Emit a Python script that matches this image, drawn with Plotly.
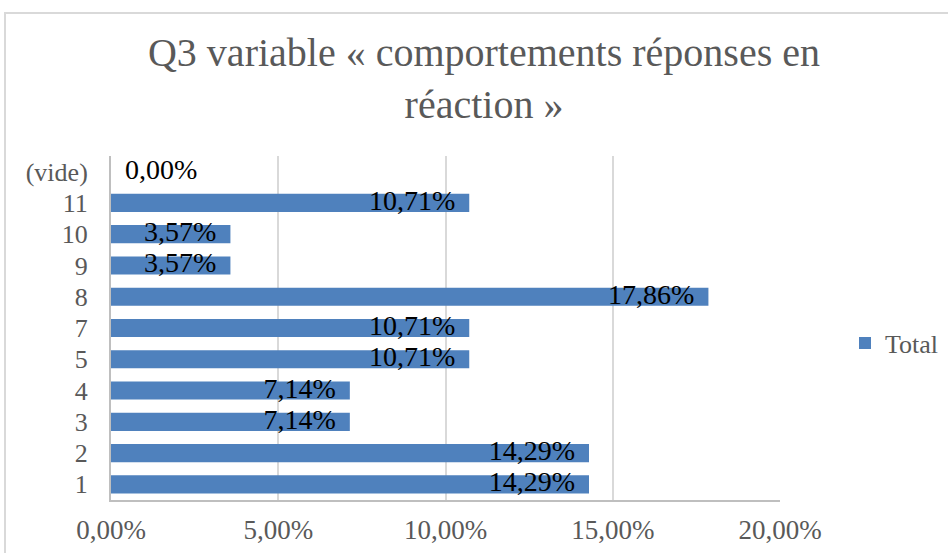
import plotly.graph_objects as go

categories = ["1", "2", "3", "4", "5", "7", "8", "9", "10", "11", "(vide)"]
values = [14.29, 14.29, 7.14, 7.14, 10.71, 10.71, 17.86, 3.57, 3.57, 10.71, 0.0]
labels = ["14,29%", "14,29%", "7,14%", "7,14%", "10,71%", "10,71%", "17,86%", "3,57%", "3,57%", "10,71%", "0,00%"]
x_ticks = [0, 5, 10, 15, 20]
x_ticklabels = ["0,00%", "5,00%", "10,00%", "15,00%", "20,00%"]
title_text = "Q3 variable « comportements réponses en<br>réaction »"

W, H = 948, 553
L, R, T, B = 111, 168, 156, 53
pw, ph = W - L - R, H - T - B

FONT = "Liberation Serif"
BAR = "#4F81BD"
GREY = "#595959"
NB = "\u00a0"

fig = go.Figure()
fig.add_trace(go.Bar(
    y=categories, x=values, orientation="h",
    marker=dict(color=BAR, line=dict(width=0)),
    name="Total", width=0.58,
))
shown = [(t + NB * 2) if v > 0 else (NB * 2 + t) for t, v in zip(labels, values)]
fig.add_trace(go.Scatter(
    y=categories, x=values, mode="text", text=shown,
    textposition=["middle left" if v > 0 else "middle right" for v in values],
    textfont=dict(family=FONT, size=28, color="#000000"),
    showlegend=False, cliponaxis=False, hoverinfo="skip",
))

def px_x(p):
    return (p - L) / pw

def px_y(p):
    return (H - B - p) / ph

fig.update_layout(
    width=W, height=H,
    margin=dict(l=L, r=R, t=T, b=B, autoexpand=False),
    paper_bgcolor="white", plot_bgcolor="white",
    title=dict(text=title_text, x=484 / W, xanchor="center", y=1 - 66 / H, yanchor="middle",
               font=dict(family=FONT, size=40, color=GREY)),
    showlegend=True,
    legend=dict(x=px_x(845), y=px_y(343), xanchor="left", yanchor="middle",
                font=dict(family=FONT, size=26, color=GREY), bgcolor="rgba(0,0,0,0)"),
    xaxis=dict(range=[0, 20], tickvals=x_ticks, ticktext=x_ticklabels,
               showgrid=True, gridcolor="#D9D9D9", gridwidth=2,
               zeroline=False, showline=True, linecolor="#BFBFBF", linewidth=2,
               ticks="", ticklabelstandoff=5, automargin=False,
               tickfont=dict(family=FONT, size=27, color=GREY), fixedrange=True),
    yaxis=dict(categoryorder="array", categoryarray=categories,
               range=[-0.5, len(categories) - 0.5],
               showgrid=False, showline=True, linecolor="#BFBFBF", linewidth=2,
               ticks="", ticklabelstandoff=16, automargin=False,
               tickfont=dict(family=FONT, size=26, color=GREY), fixedrange=True),
    bargap=0.42,
)
fig.add_shape(type="rect", xref="paper", yref="paper",
              x0=px_x(5), x1=px_x(W + 5), y0=px_y(H + 5), y1=px_y(13),
              line=dict(color="#D9D9D9", width=2), fillcolor="rgba(0,0,0,0)", layer="below")

fig.write_html(
    "out.html",
    config={"displayModeBar": False},
    post_script="document.body.style.margin='0';document.body.style.overflow='hidden';",
)
